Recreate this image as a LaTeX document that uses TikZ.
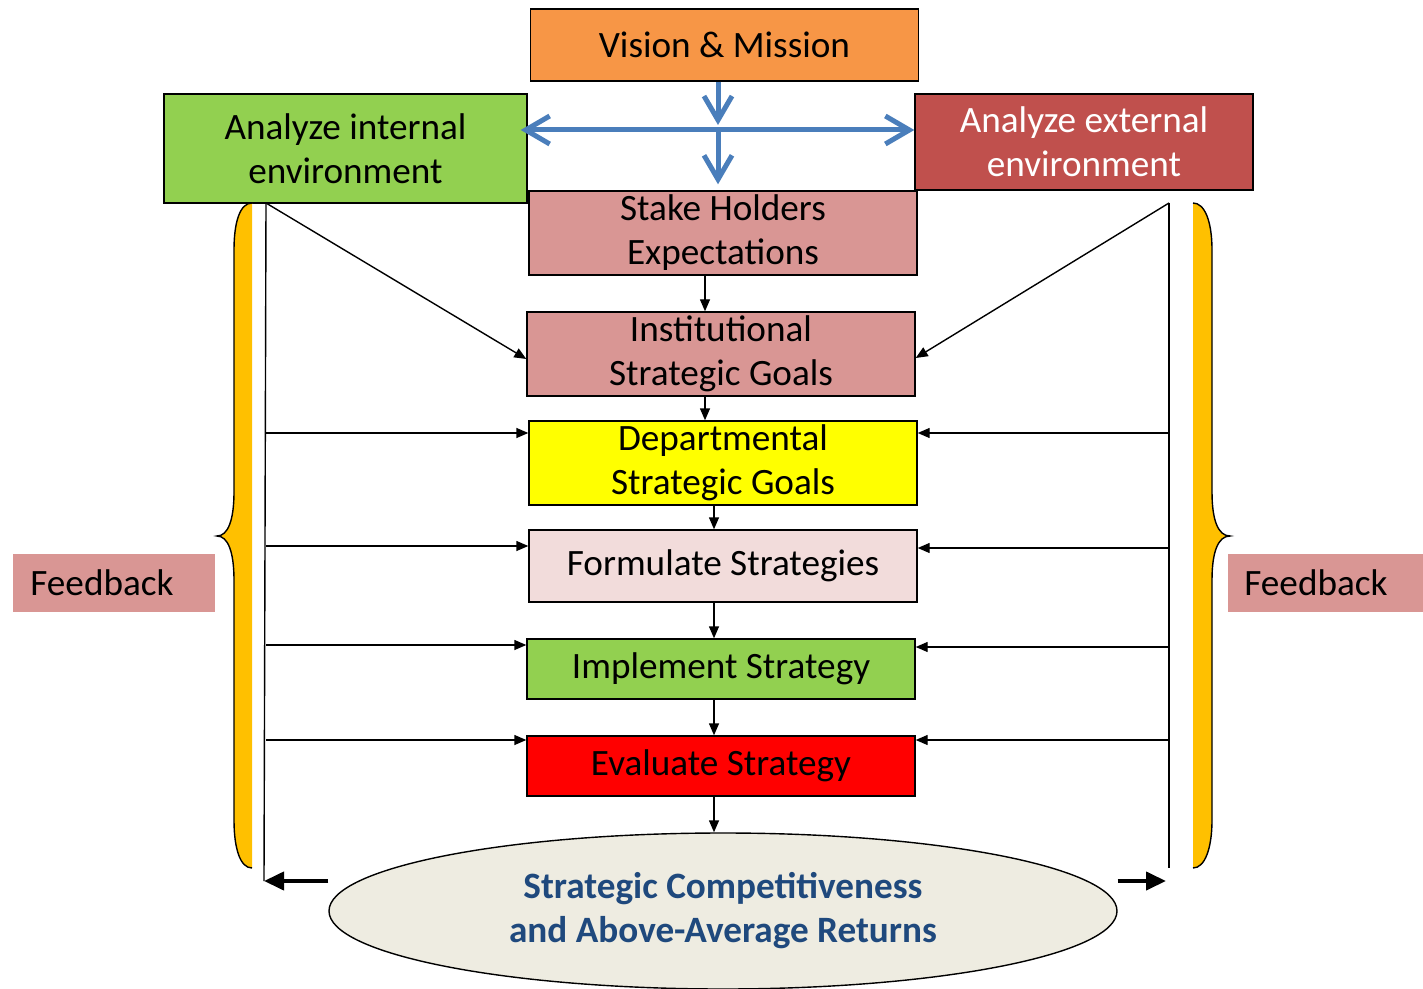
\documentclass[tikz,border=0pt]{standalone}
\usepackage{fontspec}
\setmainfont{Carlito}
\usetikzlibrary{arrows.meta,shapes.geometric}
\definecolor{vmorange}{HTML}{F79646}
\definecolor{envgreen}{HTML}{92D050}
\definecolor{extred}{HTML}{C0504D}
\definecolor{goalpink}{HTML}{D99694}
\definecolor{lightpink}{HTML}{F2DCDB}
\definecolor{evalred}{HTML}{FF0000}
\definecolor{deptyellow}{HTML}{FFFF00}
\definecolor{returnsbg}{HTML}{EEECE1}
\definecolor{returnsblue}{HTML}{1F497D}
\definecolor{spreadblue}{HTML}{4A7EBB}
\definecolor{bracegold}{HTML}{FFC000}
\begin{document}
\begin{tikzpicture}
  [x=0.5pt,y=-0.5pt,
   every node/.style={font=\fontsize{18.6}{22}\selectfont,align=center,inner sep=0pt},
   stagebox/.style={draw,line width=0.7pt,minimum width=194pt},
   flow/.style={-{Triangle[length=6pt,width=5pt]},line width=0.7pt},
   spread/.style={line width=2.5pt,spreadblue},
   blueV/.tip={Straight Barb[length=12pt,width=14pt]},
   fat/.style={-{Triangle[length=10pt,width=9pt]},line width=2pt},
   fbbox/.style={fill=goalpink,minimum height=29pt,align=left,anchor=west}]
  \useasboundingbox (0,0) rectangle (1423,989);

  \node[stagebox,fill=vmorange,minimum height=36pt] (vm) at (724.5,45) {Vision \& Mission};
  \node[stagebox,fill=envgreen,minimum width=181.5pt,minimum height=54.5pt] (aint) at (345.5,148.5) {Analyze internal\\environment};
  \node[stagebox,fill=extred,text=white,minimum width=169pt,minimum height=48pt] (aext) at (1084,142) {Analyze external\\environment};
  \node[stagebox,fill=goalpink,minimum height=42pt] (stake) at (723,233) {Stake Holders\\Expectations};
  \node[stagebox,fill=goalpink,minimum height=42pt] (inst) at (721,354) {Institutional\\Strategic Goals};
  \node[stagebox,fill=deptyellow,minimum height=42pt] (dept) at (723,463) {Departmental\\Strategic Goals};
  \node[stagebox,fill=lightpink,minimum height=36pt] (form) at (723,566) {Formulate Strategies};
  \node[stagebox,fill=envgreen,minimum height=30pt] (impl) at (721,669) {Implement Strategy};
  \node[stagebox,fill=evalred,minimum height=30pt] (eval) at (721,766) {Evaluate Strategy};
  \node[ellipse,draw,line width=0.7pt,fill=returnsbg,minimum width=394pt,minimum height=78pt,
        text=returnsblue,font=\fontsize{18.6}{22}\selectfont\bfseries] (goal) at (723,911)
        {Strategic Competitiveness\\and Above-Average Returns};
  \node[fbbox,text width=84pt,inner xsep=8.5pt] (fbl) at (13,583) {Feedback};
  \node[fbbox,text width=81.5pt,inner xsep=8pt] (fbr) at (1228,583) {Feedback};

  \coordinate (hub) at (718,130);
  \coordinate (ltop) at (266,203);
  \coordinate (lbot) at (264,881);
  \coordinate (rtop) at (1169,203);
  \coordinate (rbot) at (1169,868);

  \draw[spread,-blueV] (vm.south -| hub) -- ([yshift=2.5pt]hub);
  \draw[spread,-blueV] (hub) -- ([yshift=3pt]stake.north -| hub);
  \draw[spread,blueV-blueV] ([xshift=-3.5pt]hub -| aint.east) -- (hub -| aext.west);

  \foreach \from/\to/\x in {stake/inst/705,inst/dept/705,dept/form/714,form/impl/714,impl/eval/714,eval/goal/714}
    \draw[flow] (\from.south -| \x,0) -- (\to.north -| \x,0);

  \draw[line width=0.7pt] (ltop) -- (lbot);
  \draw[line width=0.7pt] (rtop) -- (rbot);
  \draw[flow] (ltop) -- (inst.west |- 0,359);
  \draw[flow] (rtop) -- (inst.east |- 0,358);
  \foreach \y/\n in {433/dept,546/form,645/impl,740/eval}
    \draw[flow] (ltop |- 0,\y) -- (\n.west |- 0,\y);
  \foreach \y/\n in {433/dept,548/form,647/impl,740/eval}
    \draw[flow] (rtop |- 0,\y) -- (\n.east |- 0,\y);
  \draw[fat] (lbot -| goal.west) -- (lbot);
  \draw[fat] (lbot -| goal.east) -- (1166,881);

  \fill[bracegold] (252,203) .. controls (240,203) and (234,222) .. (234,250) -- (234,492)
    .. controls (234,520) and (228,536) .. (217,536) .. controls (228,536) and (234,552) .. (234,580)
    -- (234,820) .. controls (234,848) and (240,868) .. (252,868) -- cycle;
  \draw[line width=0.7pt] (252,203) .. controls (240,203) and (234,222) .. (234,250) -- (234,492)
    .. controls (234,520) and (228,536) .. (217,536) .. controls (228,536) and (234,552) .. (234,580)
    -- (234,820) .. controls (234,848) and (240,868) .. (252,868);
  \fill[bracegold] (1193,203) .. controls (1205,203) and (1212,222) .. (1212,250) -- (1212,492)
    .. controls (1212,520) and (1218,536) .. (1230,536) .. controls (1218,536) and (1212,552) .. (1212,580)
    -- (1212,820) .. controls (1212,848) and (1205,868) .. (1193,868) -- cycle;
  \draw[line width=0.7pt] (1193,203) .. controls (1205,203) and (1212,222) .. (1212,250) -- (1212,492)
    .. controls (1212,520) and (1218,536) .. (1230,536) .. controls (1218,536) and (1212,552) .. (1212,580)
    -- (1212,820) .. controls (1212,848) and (1205,868) .. (1193,868);
\end{tikzpicture}
\end{document}
